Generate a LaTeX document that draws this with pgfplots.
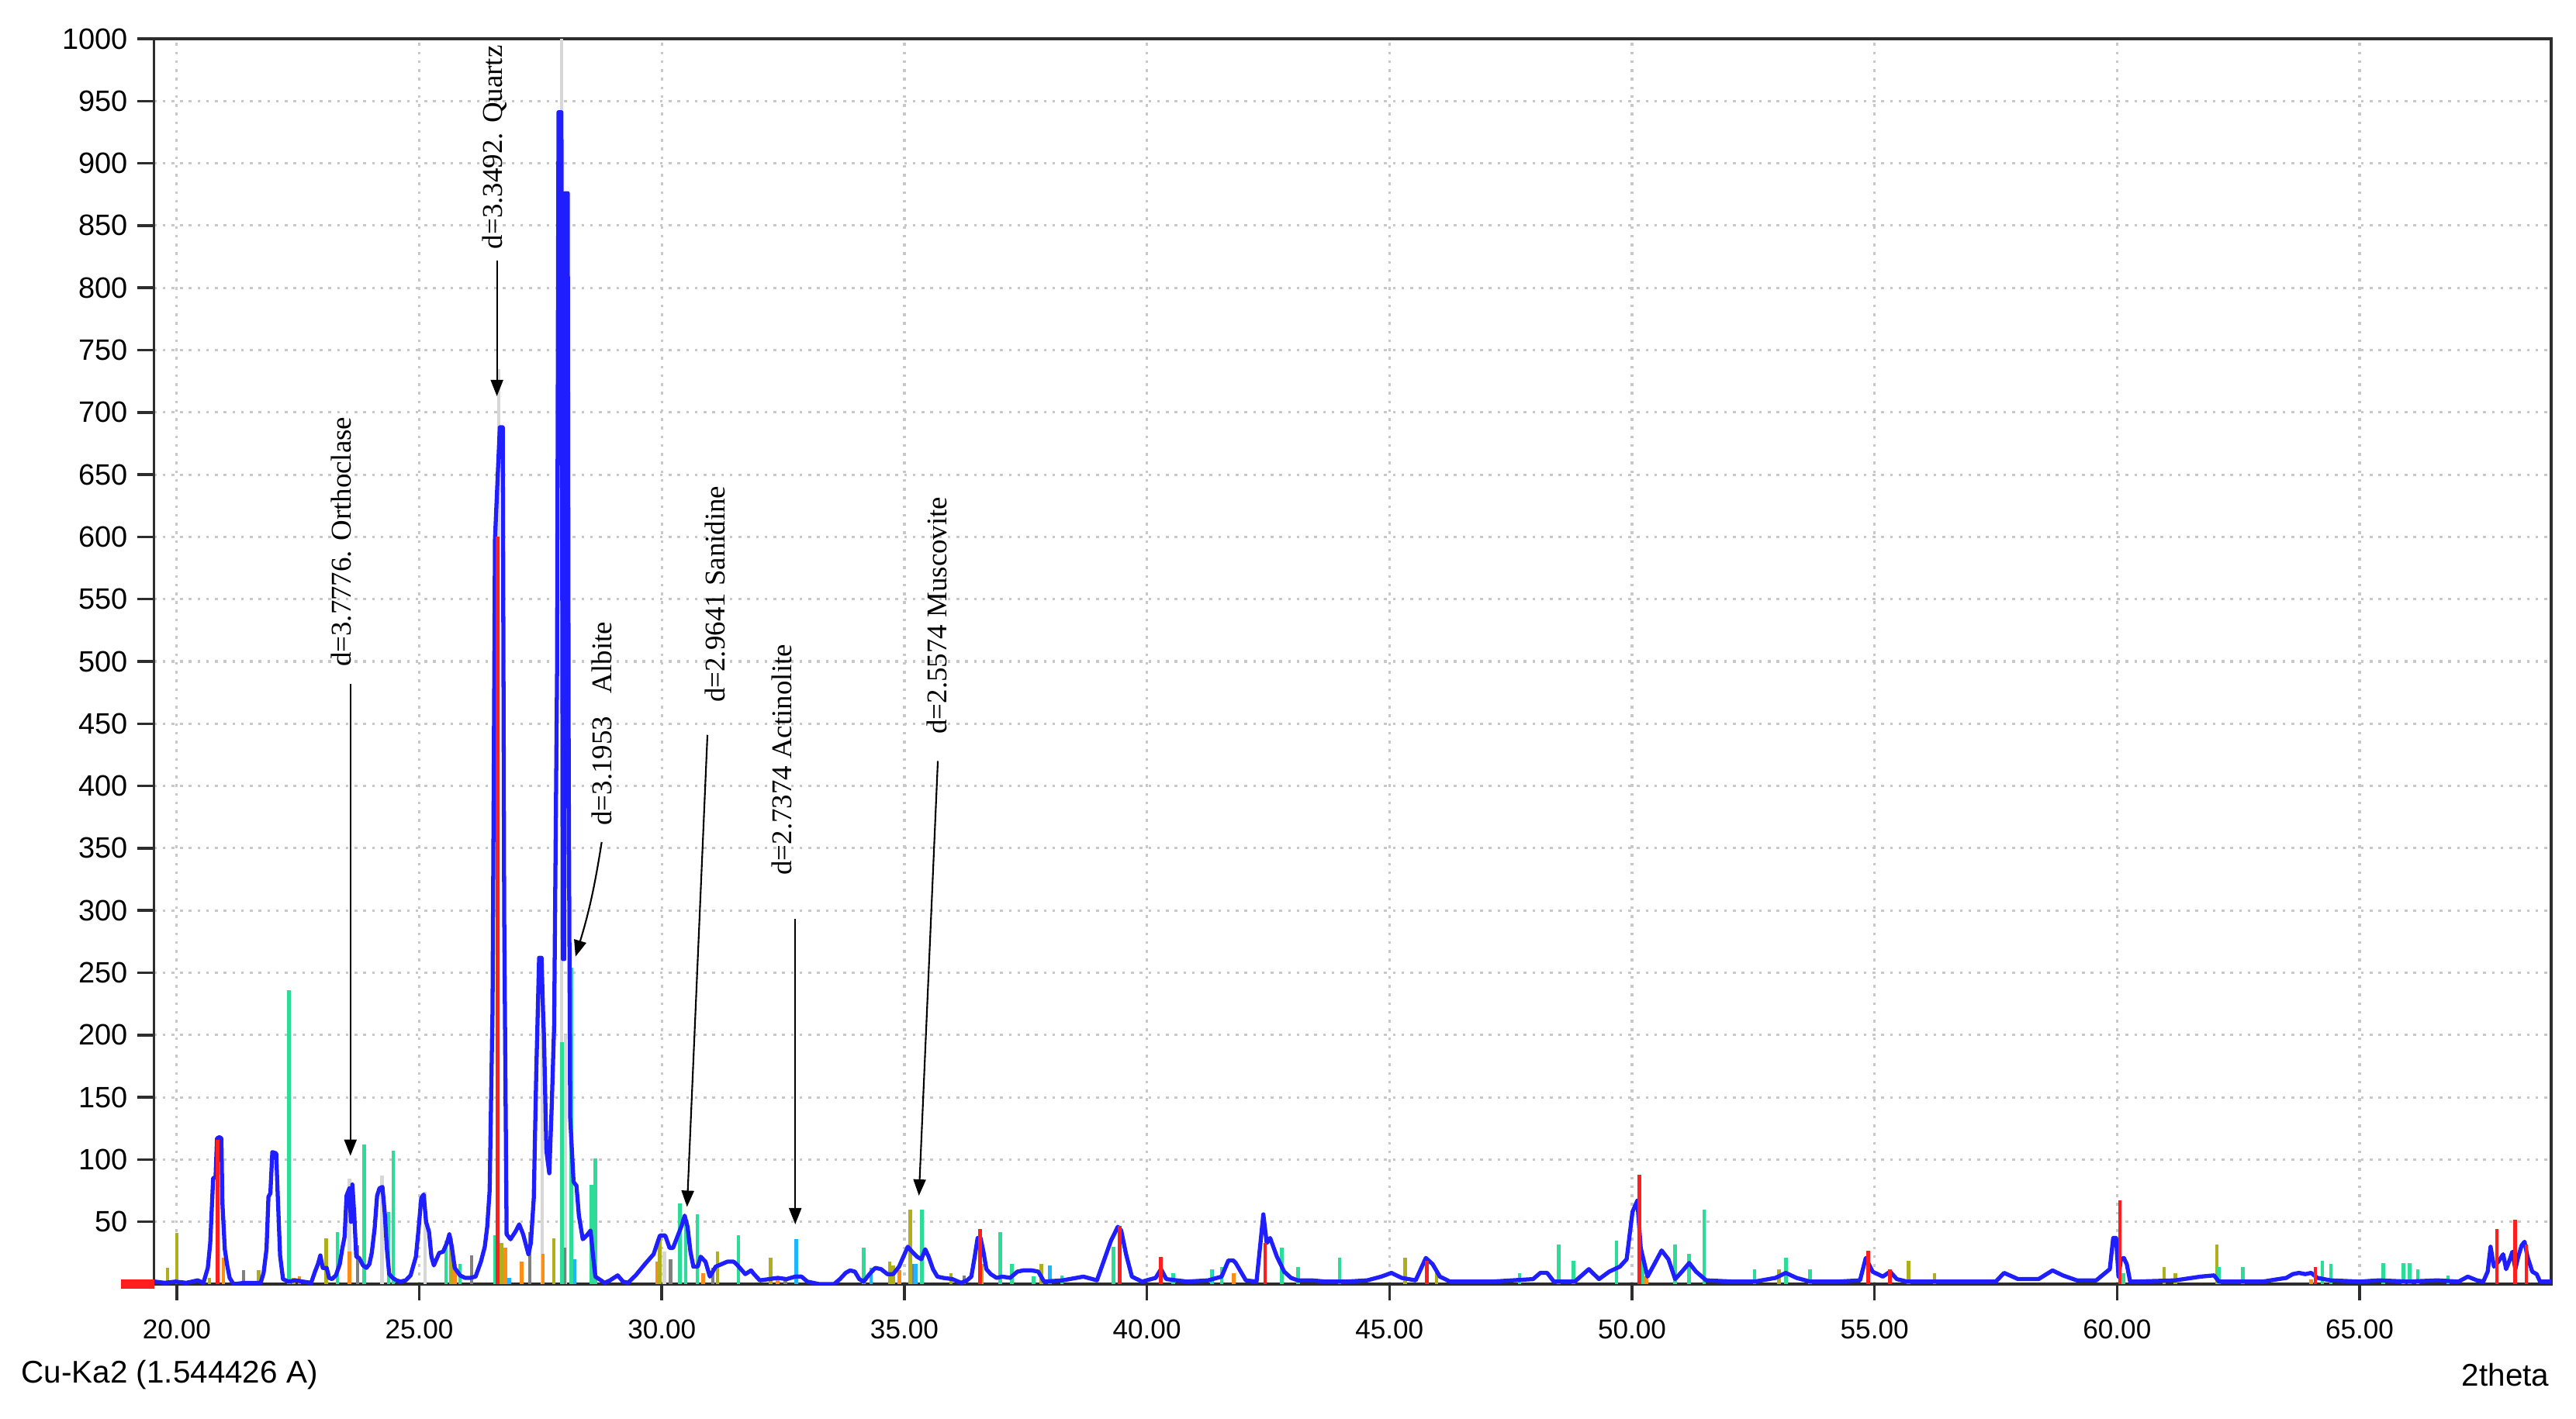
\documentclass[border=0pt]{standalone}
\usepackage{fontspec}
\setmainfont{Liberation Sans}
\newfontfamily\annfont{Liberation Serif}
\usepackage{pgfplots}
\pgfplotsset{compat=1.18}
\usetikzlibrary{arrows.meta}

\definecolor{scanblue}{RGB}{30,30,255}
\definecolor{stickred}{RGB}{255,30,30}
\definecolor{stickgreen}{RGB}{45,220,150}
\definecolor{stickolive}{RGB}{175,175,30}
\definecolor{stickorange}{RGB}{255,140,20}
\definecolor{stickgray}{RGB}{128,128,128}
\definecolor{sticklgray}{RGB}{215,215,215}
\definecolor{sticksky}{RGB}{30,180,255}
\definecolor{axisgray}{RGB}{45,45,45}
\definecolor{gridgray}{RGB}{200,200,200}

\begin{document}
\begin{tikzpicture}
\begin{axis}[
    name=ax,
    width=30.905cm, height=16.06cm,
    scale only axis,
    xmin=19.53, xmax=68.95,
    ymin=0, ymax=1000,
    xtick={20,25,...,65},
    xticklabels={20.00,25.00,30.00,35.00,40.00,45.00,50.00,55.00,60.00,65.00},
    ytick={50,100,...,1000},
    yticklabels={50,100,150,200,250,300,350,400,450,500,550,600,650,700,750,800,850,900,950,1000},
    tick pos=left,
    tick align=outside,
    major tick length=0.21cm,
    tick style={line width=1pt, color=axisgray},
    axis line style={line width=1.1pt, color=axisgray},
    grid=major,
    major grid style={gridgray, line width=0.9pt, dash pattern=on 1pt off 2.2pt},
    xticklabel style={font=\fontsize{10}{12}\selectfont, text=black, yshift=-0.13cm},
    yticklabel style={font=\fontsize{10.8}{12}\selectfont, text=black},
]

% reference lines of the phases (sticks)
\addplot[ycomb, no marks, color=sticklgray, line width=1.3pt] coordinates {
(23.56,85) (24.23,87) (25.12,74) (26.64,735) (27.53,250) (27.93,1000) (28.01,200) (30.05,26)
};
\addplot[ycomb, no marks, color=stickgray, line width=1.3pt] coordinates {
(21.38,11) (23.73,31) (26.08,23) (27.28,42) (28.00,29) (30.18,20) (31.05,13) (32.55,5) (35.18,16) (36.23,7)
};
\addplot[ycomb, no marks, color=stickorange, line width=1.3pt] coordinates {
(20.96,21) (22.53,6) (23.56,26) (25.73,16) (26.77,29) (27.11,18) (27.55,24) (29.90,18) (30.85,9)
(32.39,6) (34.90,11) (36.60,16) (41.79,9) (50.30,6) (64.00,4)
};
\addplot[ycomb, no marks, color=stickolive, line width=1.3pt] coordinates {
(19.81,13) (20.00,41) (20.24,3) (20.67,5) (21.69,11) (22.41,5) (23.08,37) (25.65,37) (26.69,33)
(27.77,37) (29.96,39) (31.15,26) (32.24,21) (34.70,18) (34.77,15) (35.12,60) (35.96,9) (37.82,16)
(45.32,21) (45.97,12) (53.03,12) (55.70,19) (56.24,9) (60.97,14) (61.20,9) (62.06,32)
};
\addplot[ycomb, no marks, color=sticksky, line width=1.3pt] coordinates {
(26.85,5) (28.20,20) (32.77,36) (34.31,13) (35.23,16) (38.00,15) (41.34,12)
};
\addplot[ycomb, no marks, color=stickgreen, line width=1.3pt] coordinates {
(22.31,236) (23.31,42) (23.86,112) (24.37,58) (24.46,107) (25.55,35) (25.84,16) (26.56,39)
(27.94,194) (28.13,254) (28.55,80) (28.63,101) (30.37,65) (30.49,48) (30.73,56) (31.58,39)
(34.16,29) (35.36,60) (36.98,42) (37.22,16) (37.66,6) (38.25,7) (39.31,30) (40.54,9) (41.33,12)
(41.54,14) (42.78,29) (43.12,14) (43.97,21) (47.68,9) (48.49,32) (48.79,19) (49.68,35) (50.22,24)
(50.89,32) (51.18,24) (51.49,60) (52.53,12) (53.17,21) (53.67,12) (60.13,9) (62.10,14) (62.59,14)
(64.23,19) (64.41,16) (65.49,17) (65.90,17) (66.03,17) (66.20,12) (66.82,7)
};

% measured pattern
\addplot[no marks, color=scanblue, line width=1.5pt, line join=round] coordinates {
(19.55,2) (19.75,1) (19.97,2) (20.20,1) (20.43,3) (20.55,1) (20.64,13) (20.69,33) (20.75,85)
(20.80,86) (20.83,117) (20.88,118) (20.92,117) (20.94,66) (20.99,28) (21.04,15) (21.09,5) (21.17,0)
(21.40,1) (21.73,1) (21.79,9) (21.85,28) (21.89,70) (21.93,73) (21.97,106) (22.05,105) (22.08,73)
(22.13,23) (22.19,4) (22.30,2) (22.45,3) (22.60,2) (22.77,1) (22.85,10) (22.91,16) (22.96,23)
(23.01,13) (23.09,13) (23.14,5) (23.20,4) (23.28,7) (23.36,16) (23.41,28) (23.46,38) (23.50,71)
(23.56,77) (23.59,50) (23.62,80) (23.66,55) (23.70,22) (23.76,21) (23.84,15) (23.91,13) (23.97,16)
(24.02,25) (24.08,45) (24.13,71) (24.18,77) (24.24,78) (24.29,56) (24.33,29) (24.38,8) (24.45,5)
(24.53,3) (24.61,2) (24.72,3) (24.82,7) (24.93,22) (24.98,42) (25.04,69) (25.09,72) (25.14,50)
(25.20,42) (25.25,22) (25.30,15) (25.41,25) (25.49,26) (25.57,33) (25.62,40) (25.67,30) (25.73,13)
(25.84,7) (25.94,5) (26.05,5) (26.16,6) (26.27,18) (26.35,30) (26.40,46) (26.45,75) (26.51,221)
(26.56,598) (26.66,688) (26.72,688) (26.75,297) (26.80,40) (26.88,36) (26.98,42) (27.06,48)
(27.14,40) (27.25,24) (27.30,33) (27.36,69) (27.41,168) (27.47,262) (27.52,262) (27.55,220)
(27.57,199) (27.62,107) (27.68,89) (27.73,143) (27.78,208) (27.84,493) (27.87,941) (27.93,941)
(27.96,261) (27.99,261) (28.00,876) (28.06,876) (28.08,412) (28.11,134) (28.18,82) (28.24,79)
(28.29,55) (28.37,36) (28.45,39) (28.53,43) (28.59,20) (28.63,6) (28.82,1) (28.93,3) (29.09,7)
(29.20,2) (29.30,1) (29.46,7) (29.65,16) (29.83,24) (29.96,39) (30.07,39) (30.16,29) (30.23,29)
(30.32,38) (30.41,47) (30.47,55) (30.53,46) (30.59,26) (30.65,14) (30.74,14) (30.80,22) (30.90,18)
(30.99,6) (31.11,14) (31.23,16) (31.35,18) (31.48,18) (31.54,16) (31.63,12) (31.72,8) (31.84,11)
(31.90,8) (32.02,3) (32.21,4) (32.39,5) (32.57,4) (32.75,6) (32.88,6) (33.00,2) (33.24,0)
(33.55,0) (33.67,4) (33.79,9) (33.88,11) (33.98,10) (34.07,4) (34.16,2) (34.28,8) (34.40,13)
(34.52,12) (34.65,8) (34.77,8) (34.89,14) (34.98,22) (35.07,30) (35.16,26) (35.26,22) (35.35,20)
(35.43,28) (35.50,22) (35.59,12) (35.68,6) (35.80,5) (35.99,4) (36.17,1) (36.29,3) (36.38,6)
(36.45,22) (36.51,37) (36.57,37) (36.63,26) (36.69,12) (36.78,8) (36.90,5) (37.02,6) (37.18,5)
(37.33,10) (37.45,11) (37.63,11) (37.76,10) (37.88,2) (38.26,3) (38.69,6) (38.97,3) (39.26,35)
(39.40,46) (39.47,43) (39.57,24) (39.69,6) (39.90,2) (40.18,5) (40.29,12) (40.40,4) (40.83,2)
(41.26,3) (41.54,6) (41.68,19) (41.78,19) (41.83,17) (42.04,3) (42.26,2) (42.40,56) (42.47,33)
(42.54,37) (42.68,22) (42.83,10) (42.97,5) (43.11,3) (43.40,3) (43.68,2) (44.11,2) (44.54,3)
(44.83,6) (45.04,9) (45.25,5) (45.54,3) (45.75,21) (45.89,16) (46.04,6) (46.25,2) (47.11,2)
(47.96,4) (48.11,9) (48.25,9) (48.39,2) (48.82,2) (49.11,12) (49.32,4) (49.53,10) (49.75,14)
(49.89,20) (50.01,58) (50.11,67) (50.18,29) (50.32,6) (50.46,16) (50.61,27) (50.75,20) (50.89,4)
(51.03,10) (51.18,17) (51.32,10) (51.53,3) (52.10,2) (52.53,2) (52.96,5) (53.17,9) (53.39,5)
(53.67,2) (54.24,2) (54.70,3) (54.82,21) (54.96,10) (55.17,6) (55.32,10) (55.46,4) (55.67,2) (57.10,2)
(57.50,2) (57.67,9) (57.96,4) (58.38,4) (58.67,11) (58.88,7) (59.17,3) (59.57,3) (59.85,12) (59.92,37)
(59.98,37) (60.03,6) (60.08,20) (60.14,21) (60.20,16) (60.27,2) (60.39,2) (61.20,3) (61.72,6)
(62.00,7) (62.10,2) (63.00,2) (63.49,5) (63.62,8) (63.75,9) (63.88,8) (64.00,9) (64.13,5)
(64.40,3) (65.00,2) (65.40,3) (66.00,2) (66.60,3) (67.04,2) (67.23,6) (67.42,3) (67.55,2)
(67.64,10) (67.70,30) (67.77,14) (67.86,18) (67.96,24) (68.02,12) (68.08,18) (68.15,26) (68.21,12)
(68.27,22) (68.34,31) (68.40,34) (68.46,22) (68.56,10) (68.65,8) (68.72,2) (68.95,2)
};

\addplot[ycomb, no marks, color=stickred, line width=1.3pt] coordinates {
(20.84,116) (26.61,600) (36.56,44) (39.44,47) (40.29,22) (42.44,33) (45.77,19) (50.15,88)
(54.87,27) (55.32,12) (60.06,67) (64.09,14) (67.83,44) (68.21,52) (68.44,32)
};

% annotations
\begin{scope}[every node/.style={rotate=90, font=\annfont\fontsize{10.5}{12}\selectfont, inner sep=0pt}]
\node at (axis cs:23.39,596) {d=3.7776. Orthoclase};
\node at (axis cs:26.55,913) {d=3.3492. Quartz};
\node at (axis cs:28.76,450) {d=3.1953\hspace{0.8em}Albite};
\node at (axis cs:31.10,554) {d=2.9641 Sanidine};
\node at (axis cs:32.48,421) {d=2.7374 Actinolite};
\node at (axis cs:35.67,537) {d=2.5574 Muscovite};
\end{scope}
\begin{scope}[line width=0.6pt, -{Triangle[length=0.21cm,width=0.16cm]}]
\draw (axis cs:23.58,482) -- (axis cs:23.58,103);
\draw (axis cs:26.60,822) -- (axis cs:26.60,713);
\draw (axis cs:28.76,355) to[bend left=4] (axis cs:28.22,263);
\draw (axis cs:30.94,441) -- (axis cs:30.52,62);
\draw (axis cs:32.75,293) -- (axis cs:32.75,48);
\draw (axis cs:35.69,420) -- (axis cs:35.30,71);
\end{scope}
\end{axis}

\fill[stickred] ([xshift=-0.43cm,yshift=-0.06cm]ax.south west) rectangle ([yshift=0.06cm]ax.south west);
\node[anchor=west, inner sep=0pt, font=\fontsize{11.5}{13}\selectfont] at ([xshift=-1.715cm,yshift=-1.17cm]ax.south west) {Cu-Ka2 (1.544426 A)};
\node[anchor=east, inner sep=0pt, font=\fontsize{11.5}{13}\selectfont] at ([xshift=-0.02cm,yshift=-1.17cm]ax.south east) {2theta};

\pgfresetboundingbox
\path[use as bounding box] ([shift={(-1.985cm,-1.73cm)}]ax.south west) rectangle ([shift={(0.32cm,0.50cm)}]ax.north east);
\end{tikzpicture}
\end{document}
